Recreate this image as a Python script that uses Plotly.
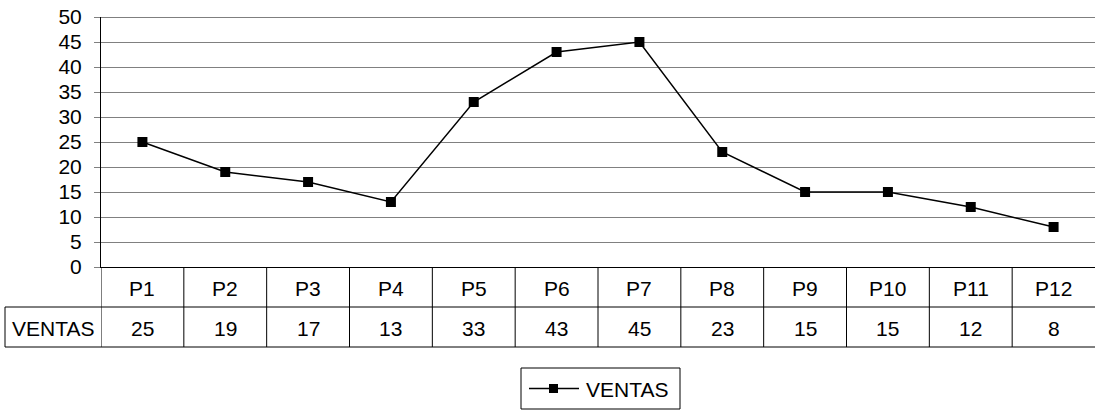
import plotly.graph_objects as go

# Sales per period
periods = ["P1", "P2", "P3", "P4", "P5", "P6", "P7", "P8", "P9", "P10", "P11", "P12"]
ventas = [25, 19, 17, 13, 33, 43, 45, 23, 15, 15, 12, 8]
series_name = "VENTAS"
y_ticks = [0, 5, 10, 15, 20, 25, 30, 35, 40, 45, 50]

W, H = 1095, 413
ML, MR, MT, MB = 101, 0, 17, 146
plot_h = H - MT - MB
plot_w = W - ML - MR
FONT = "Liberation Sans, Arial, sans-serif"
FS = 21

xs = list(range(len(periods)))

fig = go.Figure()
fig.add_trace(go.Scatter(
    x=xs, y=ventas, mode="lines+markers", name=series_name,
    line=dict(color="black", width=1.5),
    marker=dict(symbol="square", size=10, color="black"),
    cliponaxis=False, showlegend=False,
))


def px_y(px):
    """absolute pixel y -> paper y"""
    return (H - MB - px) / plot_h


def px_x(px):
    """absolute pixel x -> paper x"""
    return (px - ML) / plot_w


line_k = dict(color="black", width=1)
table_top, row_h = H - MB, 40
shapes = []
# top boundary line of plot area
shapes.append(dict(type="line", xref="paper", yref="y", x0=0, x1=1, y0=50, y1=50, line=line_k))
# data table: horizontal rules
for k in (1, 2):
    yk = px_y(table_top + row_h * k)
    shapes.append(dict(type="line", xref="paper", yref="paper",
                       x0=px_x(5), x1=1, y0=yk, y1=yk, line=line_k))
# header cell left edge
shapes.append(dict(type="line", xref="paper", yref="paper",
                   x0=px_x(5), x1=px_x(5), y0=px_y(table_top + row_h),
                   y1=px_y(table_top + 2 * row_h), line=line_k))
# column separators
for i in range(len(periods)):
    shapes.append(dict(type="line", xref="x", yref="paper",
                       x0=i - 0.5, x1=i - 0.5, y0=0, y1=px_y(table_top + 2 * row_h),
                       line=line_k))

txt = dict(showarrow=False, xanchor="center", yanchor="middle",
           font=dict(size=FS, color="black", family=FONT))
annotations = []
for i, (p, v) in enumerate(zip(periods, ventas)):
    annotations.append(dict(x=i, y=px_y(table_top + row_h * 0.5 + 1), xref="x", yref="paper",
                            text=p, **txt))
    annotations.append(dict(x=i, y=px_y(table_top + row_h * 1.5 + 1), xref="x", yref="paper",
                            text=str(v), **txt))
annotations.append(dict(x=px_x(53), y=px_y(table_top + row_h * 1.5 + 1), xref="paper",
                        yref="paper", text=series_name, **txt))

# legend box with line + square sample
lg_x0, lg_x1, lg_y0, lg_y1 = 521, 680, 368, 409
lg_cy = (lg_y0 + lg_y1) / 2
shapes.append(dict(type="rect", xref="paper", yref="paper",
                   x0=px_x(lg_x0), x1=px_x(lg_x1), y0=px_y(lg_y1), y1=px_y(lg_y0),
                   line=line_k, fillcolor="white"))
shapes.append(dict(type="line", xref="paper", yref="paper",
                   x0=px_x(529), x1=px_x(579), y0=px_y(lg_cy), y1=px_y(lg_cy),
                   line=dict(color="black", width=1.5)))
shapes.append(dict(type="rect", xref="paper", yref="paper",
                   x0=px_x(549), x1=px_x(558), y0=px_y(lg_cy + 4.5), y1=px_y(lg_cy - 4.5),
                   line=dict(width=0), fillcolor="black"))
annotations.append(dict(x=px_x(584), y=px_y(lg_cy + 1), xref="paper", yref="paper",
                        text=series_name, showarrow=False, xanchor="left", yanchor="middle",
                        font=dict(size=FS, color="black", family=FONT)))

fig.update_layout(
    width=W, height=H,
    margin=dict(l=ML, r=MR, t=MT, b=MB, pad=0),
    paper_bgcolor="white", plot_bgcolor="white",
    font=dict(family=FONT, size=FS, color="black"),
    shapes=shapes, annotations=annotations,
    showlegend=False,
    xaxis=dict(range=[-0.5, len(periods) - 0.5], showgrid=False, showticklabels=False,
               ticks="", showline=True, linecolor="black", linewidth=1, zeroline=False),
    yaxis=dict(range=[0, 50], tickvals=y_ticks, showgrid=True, gridcolor="#808080",
               gridwidth=1, showline=True, linecolor="black", linewidth=1,
               ticks="outside", ticklen=6, tickcolor="#808080", ticklabelstandoff=8,
               zeroline=False, tickfont=dict(size=FS, family=FONT, color="black")),
)

fig.write_html("out.html")
